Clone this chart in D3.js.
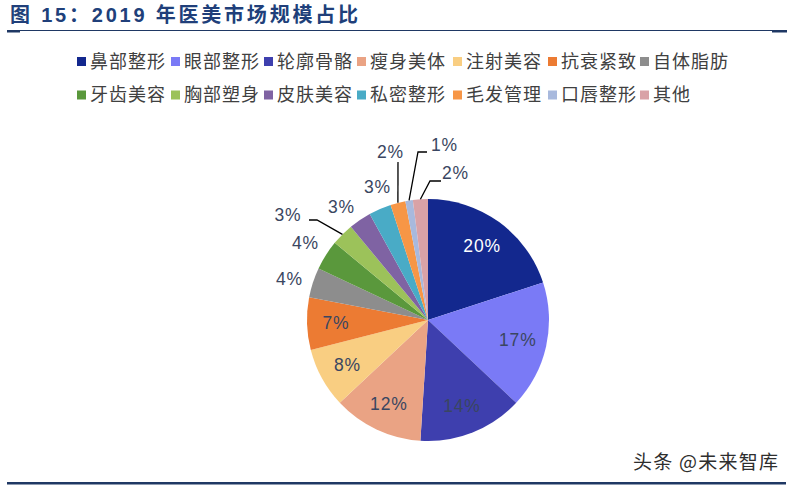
<!DOCTYPE html>
<html><head><meta charset="utf-8">
<script src="https://cdn.jsdelivr.net/npm/d3@7"></script>
<style>
html,body{margin:0;padding:0;background:#fff;}
svg{display:block;}
</style></head>
<body>
<svg id="chart" width="792" height="488"></svg>
<script>
// ---- data ----
const categories = ["鼻部整形","眼部整形","轮廓骨骼","瘦身美体","注射美容","抗衰紧致","自体脂肪","牙齿美容","胸部塑身","皮肤美容","私密整形","毛发管理","口唇整形","其他"];
const shares = [20,17,14,12,8,7,4,4,3,3,3,2,1,2];
const percentLabels = ["20%","17%","14%","12%","8%","7%","4%","4%","3%","3%","3%","2%","1%","2%"];
const colors = ["#13288e","#7a7af6","#3e3fae","#eaa384","#f9ce82","#ec7b33","#8d8d8d","#5a983c","#9cc25a","#7f63a3","#49abc6","#f79646","#a8b9dd","#d9a2a7"];
const titleText = "图 15：2019 年医美市场规模占比";
const watermark = "头条 @未来智库";

// ---- layout ----
const W = 792, H = 488;
const cx = 428, cy = 320, R = 121;
const inLabelR = 92;
const outsideLabels = {
  6:  {dx:-138.5, dy:-41},
  7:  {dx:-122.5, dy:-77},
  8:  {dx:-140,   dy:-105, leader:[[-111,-100],[-119,-100]]},
  9:  {dx:-86.5,  dy:-113},
  10: {dx:-50.5,  dy:-133},
  11: {dx:-37.5,  dy:-168, leader:[[-30,-158]]},
  12: {dx:16.5,   dy:-175, leader:[[-10,-168],[-1,-168]]},
  13: {dx:27.5,   dy:-147, leader:[[2,-139],[13,-139]]}
};
const labelDark = "#3a4661";

const svg = d3.select("#chart");
svg.append("rect").attr("width",W).attr("height",H).attr("fill","#fff");

// title
svg.append("text")
  .attr("x",10).attr("y",22)
  .attr("textLength",348).attr("lengthAdjust","spacing")
  .style("font-family","'Liberation Sans','Noto Sans CJK SC',sans-serif")
  .style("font-weight","bold").style("font-size","20px")
  .attr("fill","#203f7a").text(titleText);
svg.append("line").attr("x1",8).attr("x2",786).attr("y1",30.5).attr("y2",30.5)
  .attr("stroke","#1f3864").attr("stroke-width",1.2);
svg.append("rect").attr("x",7).attr("y",30).attr("width",13).attr("height",2.5).attr("fill","#1f3864");
svg.append("rect").attr("x",772).attr("y",30).attr("width",15).attr("height",2.5).attr("fill","#1f3864");

// legend
const legendRows = [categories.slice(0,7), categories.slice(7)];
const rowY = [61.5, 95];
const legendFont = "'Noto Sans CJK SC',sans-serif";
const colX = [77,171,264,357,453,548,640];
legendRows.forEach((row,ri)=>{
  row.forEach((name,ci)=>{
    const idx = ri*7+ci;
    const g = svg.append("g").attr("transform",`translate(${colX[ci]},${rowY[ri]})`);
    g.append("rect").attr("x",0).attr("y",-4.5).attr("width",9).attr("height",9).attr("fill",colors[idx]);
    g.append("text").attr("x",13).attr("y",0).attr("dy","0.36em")
      .style("font-family",legendFont).style("font-size","18px").style("letter-spacing","1px")
      .attr("fill","#404040").text(name);
  });
});

// pie
const pie = d3.pie().sort(null).value(d=>d)(shares);
const arc = d3.arc().innerRadius(0).outerRadius(R);
const labelArc = d3.arc().innerRadius(inLabelR).outerRadius(inLabelR);
const edgeArc = d3.arc().innerRadius(R).outerRadius(R);
const gp = svg.append("g").attr("transform",`translate(${cx},${cy})`);
gp.selectAll("path.slice").data(pie).enter().append("path")
  .attr("class","slice").attr("d",arc).attr("fill",(d,i)=>colors[i]);

Object.keys(outsideLabels).forEach(k=>{
  const o = outsideLabels[k];
  if(!o.leader) return;
  const p0 = edgeArc.centroid(pie[k]);
  const pts = [p0].concat(o.leader);
  gp.append("path").attr("d",d3.line()(pts)).attr("fill","none")
    .attr("stroke","#000").attr("stroke-width",1.3);
});

gp.selectAll("text.pl").data(pie).enter().append("text").attr("class","pl")
  .attr("transform",(d,i)=>{
    if(outsideLabels[i]) return `translate(${outsideLabels[i].dx},${outsideLabels[i].dy})`;
    const c = labelArc.centroid(d); return `translate(${c[0]},${c[1]})`;
  })
  .attr("text-anchor","middle").attr("dy","0.36em")
  .style("font-family","'Liberation Sans',Arial,sans-serif").style("font-size","17.5px")
  .style("letter-spacing","0.8px")
  .attr("fill",(d,i)=> i===0 ? "#ffffff" : labelDark)
  .text((d,i)=>percentLabels[i]);

// watermark
svg.append("text").attr("x",633).attr("y",462).attr("dy","0.36em")
  .attr("textLength",145).attr("lengthAdjust","spacing")
  .style("font-family","'Noto Sans CJK SC',sans-serif").style("font-size","19px")
  .attr("fill","#2e2e2e").text(watermark);
svg.append("rect").attr("x",7).attr("y",482).attr("width",779).attr("height",2.5).attr("fill","#1f3864");
</script>
</body></html>
